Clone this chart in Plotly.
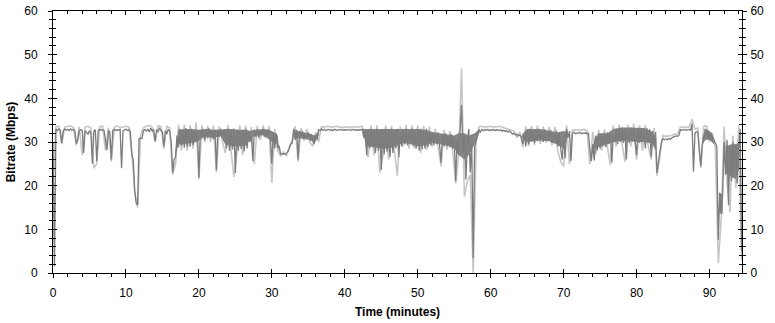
import numpy as np
import plotly.graph_objects as go

# ---------------- data ----------------
t_start_min = 0.0
avg_step_min = 0.2
# dark grey trace: bitrate (Mbps), one value every 0.2 min, rows = one minute
avg_mbps = [
    30.0, 1.5, 33.0, 32.6, 33.0,
    32.8, 29.8, 32.5, 33.0, 32.7,
    32.9, 32.6, 33.0, 32.7, 32.9,
    32.5, 29.6, 30.5, 32.6, 32.8,
    32.7, 27.5, 32.6, 32.3, 31.8,
    32.6, 31.9, 25.0, 32.5, 32.8,
    25.6, 32.6, 32.9, 32.7, 32.8,
    32.6, 29.8, 28.2, 32.5, 32.3,
    26.0, 32.7, 32.9, 32.6, 32.8,
    32.7, 32.9, 24.0, 32.6, 32.8,
    32.9, 32.7, 32.8, 32.4, 27.0,
    26.0, 19.0, 16.0, 15.6, 30.8,
    30.9, 30.8, 32.6, 32.9, 32.5,
    32.9, 32.3, 33.2, 32.5, 32.9,
    30.2, 32.8, 32.4, 33.1, 32.6,
    32.3, 29.0, 32.6, 31.8, 32.9,
    32.5, 30.0, 23.0, 26.0, 26.5,
    31.5, 28.8, 33.0, 29.2, 32.6,
    28.7, 33.2, 29.0, 32.8, 28.9,
    33.0, 29.3, 32.5, 30.0, 32.8,
    21.8, 32.8, 30.8, 33.0, 30.5,
    32.9, 30.8, 33.1, 31.0, 32.7,
    30.6, 32.8, 23.6, 32.9, 31.2,
    33.0, 31.2, 32.8, 31.5, 28.5,
    33.0, 28.0, 32.5, 28.3, 33.1,
    22.9, 32.8, 28.0, 32.6, 28.4,
    32.7, 27.9, 32.9, 28.5, 32.5,
    30.0, 31.5, 25.6, 32.8, 31.2,
    32.9, 31.0, 32.6, 32.0, 33.0,
    31.2, 32.8, 31.5, 32.9, 31.0,
    25.0, 32.3, 28.5, 32.0, 28.8,
    29.0, 27.3, 27.2, 27.3, 27.2,
    27.4, 27.8, 28.5, 29.5, 29.8,
    33.0, 30.5, 32.8, 26.0, 32.5,
    31.5, 32.5, 30.8, 32.0, 31.2,
    32.2, 31.0, 31.8, 30.5, 29.5,
    31.5, 30.5, 32.8, 32.6, 33.0,
    32.7, 32.9, 32.6, 32.8, 32.9,
    32.7, 32.8, 32.6, 32.9, 32.8,
    32.7, 32.8, 32.9, 32.7, 32.8,
    32.8, 32.7, 32.9, 32.8, 32.7,
    32.8, 32.9, 32.7, 32.8, 32.8,
    32.7, 32.8, 32.9, 31.0, 32.5,
    27.0, 32.8, 28.5, 33.0, 29.0,
    32.5, 27.5, 33.0, 28.0, 32.6,
    23.6, 32.8, 27.2, 33.0, 27.8,
    32.8, 26.5, 33.0, 27.5, 32.5,
    28.5, 33.0, 26.5, 32.2, 29.0,
    32.8, 29.5, 33.0, 29.2, 32.5,
    30.0, 33.1, 29.0, 32.8, 28.5,
    32.9, 28.0, 33.0, 28.3, 32.6,
    28.5, 33.0, 28.8, 32.5, 29.2,
    32.3, 29.3, 32.0, 29.5, 32.2,
    29.2, 25.2, 31.8, 29.0, 32.0,
    29.0, 31.5, 28.8, 31.8, 28.5,
    31.0, 21.0, 30.5, 27.0, 32.5,
    38.5, 27.5, 31.5, 21.4, 30.0,
    33.0, 23.0, 30.0, 3.4, 29.0,
    30.5, 32.0, 32.8, 32.3, 32.9,
    32.6, 32.8, 32.7, 32.9, 32.6,
    32.8, 32.7, 32.9, 32.6, 32.8,
    32.7, 32.6, 32.8, 32.5, 32.7,
    32.4, 32.6, 32.3, 32.5, 32.0,
    31.8, 32.0, 31.6, 31.8, 31.4,
    31.6, 31.2, 29.5, 31.8, 29.0,
    32.8, 29.5, 33.0, 30.0, 32.5,
    29.8, 32.8, 30.2, 33.0, 30.5,
    32.6, 30.0, 32.9, 30.3, 32.5,
    30.5, 32.8, 29.8, 32.4, 30.0,
    32.6, 29.0, 32.0, 28.5, 26.0,
    31.5, 26.3, 33.0, 31.0, 32.5,
    25.6, 32.0, 32.2, 31.9, 32.1,
    32.0, 32.2, 31.9, 32.1, 32.0,
    32.1, 31.9, 32.0, 28.0, 25.6,
    29.5, 25.8, 31.5, 28.0, 32.0,
    28.5, 31.8, 29.0, 32.0, 28.8,
    32.2, 29.5, 32.0, 25.3, 31.5,
    30.0, 33.0, 29.5, 33.2, 30.0,
    33.3, 29.8, 33.0, 26.0, 32.8,
    29.8, 33.3, 30.0, 33.0, 29.5,
    27.0, 33.2, 29.8, 33.0, 30.2,
    32.8, 28.5, 33.2, 29.8, 32.9,
    26.7, 32.5, 29.5, 32.3, 22.9,
    25.5, 28.0, 30.0, 30.8, 30.5,
    30.7, 30.5, 30.8, 30.6, 30.9,
    31.2, 31.3, 31.4, 31.3, 31.5,
    32.8, 32.7, 32.9, 32.8, 32.7,
    32.8, 32.9, 32.7, 34.2, 23.2,
    32.0, 32.4, 32.2, 28.0, 24.5,
    29.5, 30.5, 33.0, 31.0, 32.6,
    30.5, 32.2, 31.0, 30.5, 29.5,
    29.0, 7.6, 18.4, 13.5, 18.0,
    30.0, 22.5, 30.5, 15.6, 29.0,
    21.0, 30.0, 22.5, 29.5, 20.5,
    28.5, 33.0, 5.0,
]

peak_step_min = 0.4
# light grey trace: peak bitrate (Mbps), one value every 0.4 min, rows = two minutes
peak_mbps = [
    20.0, 33.5, 33.6, 29.5, 33.4,
    33.5, 33.7, 33.3, 29.2, 33.5,
    27.0, 33.4, 33.6, 33.2, 24.0,
    25.0, 33.5, 33.6, 28.0, 33.3,
    25.5, 33.4, 33.7, 33.3, 33.5,
    33.6, 33.4, 27.8, 18.5, 15.0,
    31.4, 33.3, 33.6, 33.8, 33.4,
    30.0, 33.7, 33.5, 28.5, 33.6,
    33.2, 22.5, 25.0, 34.0, 28.0,
    34.0, 28.0, 33.8, 28.5, 34.5,
    21.5, 33.8, 30.0, 33.7, 30.0,
    33.8, 23.0, 33.6, 30.5, 27.5,
    33.9, 27.5, 22.0, 27.2, 33.8,
    27.0, 33.7, 30.5, 33.4, 25.0,
    33.7, 30.5, 33.8, 30.8, 33.6,
    20.6, 33.0, 28.0, 26.8, 27.8,
    26.8, 29.0, 30.5, 33.6, 25.5,
    33.2, 30.3, 33.0, 30.0, 29.0,
    32.2, 30.0, 33.5, 33.4, 33.6,
    33.5, 33.4, 33.6, 33.5, 33.3,
    33.4, 33.5, 33.3, 33.5, 33.4,
    33.5, 33.6, 30.5, 26.5, 33.8,
    27.0, 33.8, 23.0, 26.5, 33.8,
    26.0, 33.7, 28.0, 22.3, 33.6,
    29.0, 33.9, 28.5, 33.8, 28.5,
    33.8, 27.5, 33.7, 28.2, 33.5,
    28.8, 33.0, 28.5, 24.5, 32.8,
    28.2, 32.5, 27.8, 20.5, 26.5,
    46.8, 17.5, 21.0, 22.5, 0.0,
    30.0, 33.5, 33.6, 33.4, 33.5,
    33.6, 33.4, 33.5, 33.6, 33.4,
    33.2, 33.0, 32.7, 32.5, 31.0,
    32.3, 28.8, 33.6, 29.0, 33.7,
    29.3, 33.8, 29.5, 33.6, 29.8,
    33.5, 29.2, 33.4, 28.0, 25.5,
    24.4, 33.8, 24.9, 32.7, 32.8,
    32.8, 32.7, 32.9, 32.6, 24.9,
    32.4, 27.2, 32.8, 28.0, 32.9,
    29.0, 24.7, 33.8, 29.0, 34.0,
    29.2, 25.5, 34.0, 29.0, 34.2,
    26.0, 33.8, 28.0, 33.9, 29.0,
    26.0, 33.2, 22.3, 27.5, 31.5,
    31.3, 31.4, 31.5, 31.8, 31.9,
    33.4, 33.5, 33.3, 33.5, 35.2,
    33.0, 33.2, 24.0, 33.6, 33.7,
    30.0, 32.0, 28.5, 2.3, 12.5,
    33.5, 20.5, 14.0, 31.5, 19.5,
    33.8, 3.0,
]

# dense part of the dark band in the noisy stretches (None separates stretches)
band_t = [16.8, 17.2, 18.0, 19.0, 19.8, 20.4, 21.0, 22.0, 23.0, 23.6, 24.5, 25.5,
          26.5, 27.0, 27.6, 29.0, 30.0, 30.8, 31.0, None,
          33.0, 34.0, 35.0, 35.9, 36.4, None,
          42.5, 43.0, 44.0, 45.0, 46.0, 47.0, 48.0, 49.0, 50.0, 51.0, 52.0, 53.0,
          54.0, 55.0, 55.6, 56.4, 57.0, 57.8, 58.5, None,
          64.3, 65.0, 66.0, 67.0, 68.0, 69.0, 70.0, 70.6, None,
          73.8, 74.3, 75.0, 76.0, 76.8, 78.0, 79.0, 80.0, 81.0, 82.0, 82.7, None,
          89.0, 89.5, 90.0, 90.6, None,
          91.3, 91.8, None,
          92.2, 93.0, 93.6, 94.1]
band_low = [27.0, 29.5, 29.5, 29.8, 30.0, 31.0, 31.2, 31.0, 31.3, 29.5, 29.0, 29.0,
            29.2, 30.5, 31.5, 31.5, 30.0, 29.5, 27.5, None,
            31.0, 30.8, 30.5, 29.8, 31.5, None,
            32.0, 29.0, 28.8, 28.5, 28.5, 29.0, 29.8, 29.5, 29.0, 29.2, 29.8, 29.5,
            29.2, 28.5, 27.0, 26.0, 27.0, 29.5, 32.3, None,
            31.0, 30.0, 30.3, 30.3, 30.2, 29.5, 28.5, 31.5, None,
            27.0, 28.5, 29.0, 29.5, 30.0, 30.3, 30.3, 30.0, 30.0, 29.8, 28.0, None,
            29.5, 30.5, 30.5, 29.5, None,
            14.0, 13.5, None,
            23.0, 22.0, 21.5, 24.0]
band_high = [28.0, 32.8, 33.0, 33.0, 32.8, 32.8, 33.0, 32.8, 32.8, 33.0, 33.0, 32.8,
             32.8, 32.5, 32.8, 33.0, 32.5, 31.5, 28.5, None,
             32.8, 32.3, 32.0, 31.5, 32.5, None,
             33.0, 33.0, 33.0, 33.0, 33.0, 33.0, 33.0, 33.0, 33.0, 32.8, 32.3, 32.0,
             31.8, 31.5, 32.0, 32.0, 31.5, 32.0, 33.0, None,
             31.8, 33.0, 33.0, 32.9, 32.6, 32.2, 32.5, 32.3, None,
             28.0, 31.0, 32.0, 32.0, 33.0, 33.3, 33.3, 33.2, 33.2, 32.5, 31.0, None,
             31.0, 33.0, 32.5, 31.0, None,
             18.4, 18.0, None,
             29.0, 29.5, 29.5, 30.0]

x_range = [0, 94.45]
y_range = [0, 60]
x_ticks = [0, 10, 20, 30, 40, 50, 60, 70, 80, 90]
y_ticks = [0, 10, 20, 30, 40, 50, 60]
x_title = "Time (minutes)"
y_title = "Bitrate (Mbps)"

t_avg = t_start_min + avg_step_min * np.arange(len(avg_mbps))
t_peak = t_start_min + peak_step_min * np.arange(len(peak_mbps))

# build closed polygons for the dense band, one per stretch
poly_x, poly_y = [], []
seg_t, seg_lo, seg_hi = [], [], []
for t, lo, hi in list(zip(band_t, band_low, band_high)) + [(None, None, None)]:
    if t is None:
        if seg_t:
            poly_x += seg_t + seg_t[::-1] + [None]
            poly_y += seg_hi + seg_lo[::-1] + [None]
        seg_t, seg_lo, seg_hi = [], [], []
    else:
        seg_t.append(t); seg_lo.append(lo); seg_hi.append(hi)

# ---------------- figure ----------------
FONT = "Liberation Sans, Arial, sans-serif"
fig = go.Figure()
fig.add_trace(go.Scatter(x=t_peak, y=peak_mbps, mode="lines",
                         line=dict(color="#c6c6c6", width=1.6),
                         showlegend=False, hoverinfo="skip"))
fig.add_trace(go.Scatter(x=poly_x, y=poly_y, mode="lines", fill="toself",
                         fillcolor="#858585", line=dict(width=0, color="#858585"),
                         showlegend=False, hoverinfo="skip"))
fig.add_trace(go.Scatter(x=t_avg, y=avg_mbps, mode="lines",
                         line=dict(color="#7c7c7c", width=1.3),
                         showlegend=False))
# empty traces so that overlay axes are drawn
for xa, ya in [("x2", "y"), ("x3", "y"), ("x", "y2"), ("x", "y3"), ("x", "y4")]:
    fig.add_trace(go.Scatter(x=[], y=[], xaxis=xa, yaxis=ya, showlegend=False))

common_x = dict(range=x_range, tickvals=x_ticks, showgrid=False, zeroline=False,
                linecolor="black", linewidth=1, tickcolor="black", tickwidth=1,
                automargin=False)
common_y = dict(range=y_range, tickvals=y_ticks, showgrid=False, zeroline=False,
                linecolor="black", linewidth=1, tickcolor="black", tickwidth=1,
                automargin=False)
minor_out = dict(dtick=2, tick0=0, ticks="outside", ticklen=3, tickcolor="black", showgrid=False)
minor_in = dict(dtick=2, tick0=0, ticks="inside", ticklen=3, tickcolor="black", showgrid=False)

fig.update_layout(
    width=775, height=323,
    margin=dict(l=53, r=33, t=11, b=50, autoexpand=False),
    paper_bgcolor="white", plot_bgcolor="white",
    hovermode=False,
    font=dict(family=FONT, size=12, color="black"),
    xaxis=dict(**common_x, ticks="outside", ticklen=4, minor=minor_out,
               showline=True, side="bottom",
               tickfont=dict(size=12), ticklabelstandoff=5,
               title=dict(text="<b>" + x_title + "</b>", standoff=8,
                          font=dict(size=12))),
    xaxis2=dict(**common_x, overlaying="x", side="top", anchor="y", ticks="inside",
                ticklen=4, minor=minor_in, showline=True, showticklabels=False),
    xaxis3=dict(**common_x, overlaying="x", side="bottom", anchor="y", ticks="inside",
                ticklen=4, showline=False, showticklabels=False),
    yaxis=dict(**common_y, ticks="outside", ticklen=4, minor=minor_out,
               showline=True, side="left", ticklabelstandoff=8,
               title=dict(text="<b>" + y_title + "</b>", standoff=6,
                          font=dict(size=12))),
    yaxis2=dict(**common_y, overlaying="y", side="right", anchor="x", ticks="outside",
                ticklen=4, minor=minor_out, showline=True, ticklabelstandoff=1),
    yaxis3=dict(**common_y, overlaying="y", side="left", anchor="x", ticks="inside",
                ticklen=4, minor=minor_in, showline=False, showticklabels=False),
    yaxis4=dict(**common_y, overlaying="y", side="right", anchor="x", ticks="inside",
                ticklen=4, minor=minor_in, showline=False, showticklabels=False),
)

# remove the default page margin so the 775x323 figure fills the window exactly
fig.write_html("out.html",
               config={"displayModeBar": False, "staticPlot": True},
               post_script="document.body.style.margin='0';document.body.style.overflow='hidden';")
